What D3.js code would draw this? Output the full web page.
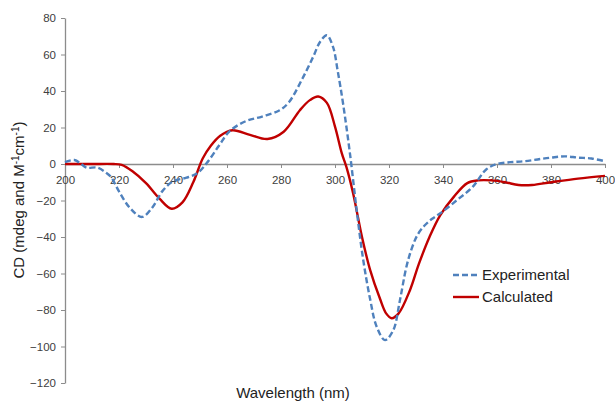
<!DOCTYPE html>
<html>
<head>
<meta charset="utf-8">
<script src="https://cdn.jsdelivr.net/npm/d3@7"></script>
<style>
  body { margin: 0; background: #fff; }
  svg { font-family: "Liberation Sans", Arial, sans-serif; }
</style>
</head>
<body>
<div id="chart"></div>
<script>
// experimental CD spectrum (wavelength nm, CD)
const expWave = [200, 203.5, 206, 208, 212, 215, 217, 220, 224, 228.5, 232.5, 236, 240, 245, 249, 252.5, 257, 261, 267, 273, 279.5, 283, 288, 292, 294.5, 297, 299.3, 301, 303, 305.6, 308, 310.4, 313, 315.4, 318.5, 321.6, 324, 326.5, 328.5, 330.5, 333, 336, 339, 345, 351, 356, 360, 365, 370, 375, 380, 385, 390, 395, 400];
const expCD = [1, 2.2, 0, -2, -2, -4.5, -7, -15, -24, -29, -23.5, -15, -9.5, -7.5, -5, 0.5, 10, 18, 23.5, 26, 29.5, 34, 47, 59, 67, 70.5, 64, 51, 33, 5, -25, -52, -74, -89, -96.5, -91, -75, -56, -46, -39, -34, -30, -27, -20, -12.5, -3, 0, 1, 1.5, 2.5, 3.5, 4.2, 3.5, 3, 1.5];

// calculated CD spectrum
const calcWave = [200, 210, 218, 221, 225, 230, 235, 239.5, 243.5, 247.5, 251, 254, 257.5, 262, 268.5, 275, 281, 287, 290.7, 293.8, 297, 300, 302.5, 304.3, 306.7, 310, 313, 316.7, 319, 321, 323.5, 327.8, 331, 335, 339, 344, 349, 353, 358, 363, 368, 373, 380, 390, 400];
const calcCD = [0, 0, 0, -0.5, -4, -10.5, -19, -24.5, -21, -10, 3, 10, 15.5, 18.5, 16, 13.7, 17.7, 29.5, 35, 37, 33.5, 20.5, 6, -2, -16, -40, -58, -74, -82, -84.5, -82, -69, -55, -40, -28, -18, -10.5, -9, -9, -10, -11.5, -11.5, -10, -8, -6.5];

const xTicks = [200, 220, 240, 260, 280, 300, 320, 340, 360, 380, 400];
const yTicks = [80, 60, 40, 20, 0, -20, -40, -60, -80, -100, -120];

const width = 615, height = 404;

const svg = d3.select("#chart").append("svg")
  .attr("width", width)
  .attr("height", height);

const x = d3.scaleLinear().domain([200, 400]).range([65, 605]);
const y = d3.scaleLinear().domain([-120, 80]).range([383, 18]);

const axisColor = "#8c8c8c";
const textColor = "#404040";

// y axis
const yAxis = svg.append("g")
  .attr("transform", `translate(${x(200)},0)`)
  .call(d3.axisLeft(y).tickValues(yTicks).tickSize(4).tickSizeOuter(0).tickPadding(5));
yAxis.select(".domain").attr("stroke", axisColor).attr("stroke-width", 1.3);
yAxis.selectAll(".tick line").attr("stroke", axisColor);
yAxis.selectAll(".tick text").attr("fill", textColor).style("font-size", "11.5px");

// x axis along zero
const xAxis = svg.append("g")
  .attr("transform", `translate(0,${y(0)})`)
  .call(d3.axisBottom(x).tickValues(xTicks).tickSize(4).tickSizeOuter(0).tickPadding(8));
xAxis.select(".domain").attr("stroke", axisColor).attr("stroke-width", 1.3);
xAxis.selectAll(".tick line").attr("stroke", axisColor);
xAxis.selectAll(".tick text").attr("fill", textColor).style("font-size", "11.5px");

const line = d3.line()
  .x(d => x(d[0]))
  .y(d => y(d[1]))
  .curve(d3.curveCatmullRom.alpha(0.5));

svg.append("path")
  .datum(calcWave.map((w, i) => [w, calcCD[i]]))
  .attr("d", line)
  .attr("fill", "none")
  .attr("stroke", "#c00000")
  .attr("stroke-width", 2.4);

svg.append("path")
  .datum(expWave.map((w, i) => [w, expCD[i]]))
  .attr("d", line)
  .attr("fill", "none")
  .attr("stroke", "#4f81bd")
  .attr("stroke-width", 2.4)
  .attr("stroke-dasharray", "6,3");

// axis titles
svg.append("text")
  .attr("x", 293).attr("y", 398)
  .attr("text-anchor", "middle")
  .attr("fill", "#222")
  .style("font-size", "15px")
  .text("Wavelength (nm)");

const yt = svg.append("text")
  .attr("transform", "translate(24,200) rotate(-90)")
  .attr("text-anchor", "middle")
  .attr("fill", "#222")
  .style("font-size", "15px");
yt.append("tspan").text("CD (mdeg and M");
yt.append("tspan").attr("dy", -5).style("font-size", "10px").text("-1");
yt.append("tspan").attr("dy", 5).text("cm");
yt.append("tspan").attr("dy", -5).style("font-size", "10px").text("-1");
yt.append("tspan").attr("dy", 5).text(")");

// legend
const legend = [
  { name: "Experimental", color: "#4f81bd", dash: "6,3", y: 275 },
  { name: "Calculated", color: "#c00000", dash: null, y: 297 }
];
legend.forEach(l => {
  svg.append("line")
    .attr("x1", 453).attr("x2", 479)
    .attr("y1", l.y).attr("y2", l.y)
    .attr("stroke", l.color)
    .attr("stroke-width", 2.4)
    .attr("stroke-dasharray", l.dash);
  svg.append("text")
    .attr("x", 482).attr("y", l.y + 5)
    .attr("fill", "#222")
    .style("font-size", "15px")
    .text(l.name);
});
</script>
</body>
</html>
